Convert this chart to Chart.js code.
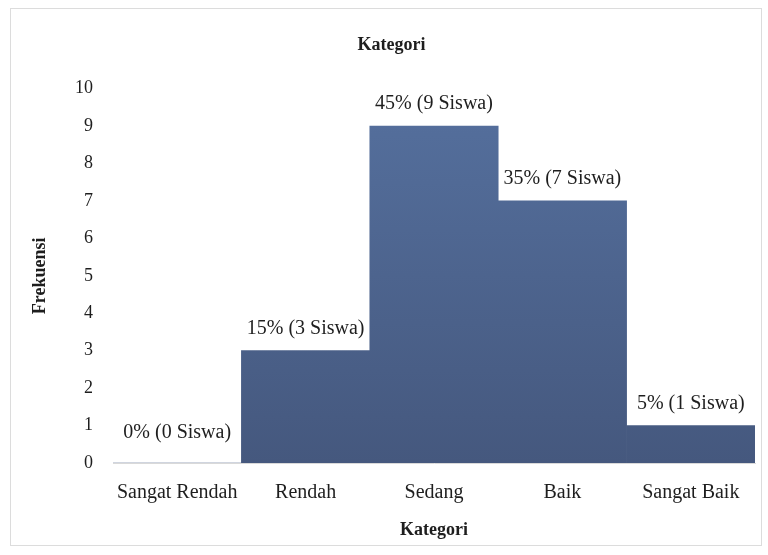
<!DOCTYPE html>
<html>
<head>
<meta charset="utf-8">
<script src="https://cdn.jsdelivr.net/npm/chart.js@4.4.1/dist/chart.umd.min.js"></script>
<style>
    html, body { margin: 0; padding: 0; background: #ffffff; }
    #wrap { width: 768px; height: 555px; }
</style>
</head>
<body>
<div id="wrap"><canvas id="histChart" width="768" height="555"></canvas></div>
<script>
// Data
const categories = ['Sangat Rendah', 'Rendah', 'Sedang', 'Baik', 'Sangat Baik'];
const frequencies = [0, 3, 9, 7, 1];
const percentages = ['0%', '15%', '45%', '35%', '5%'];
const yTicks = [0, 1, 2, 3, 4, 5, 6, 7, 8, 9, 10];

const serif = "'Liberation Serif', 'DejaVu Serif', serif";
const textColor = '#1e1e1e';

// light frame round the whole picture
const framePlugin = {
    id: 'frame',
    beforeDraw(chart) {
        const ctx = chart.ctx;
        ctx.save();
        ctx.fillStyle = '#ffffff';
        ctx.fillRect(0, 0, chart.width, chart.height);
        ctx.strokeStyle = '#dcdcdc';
        ctx.lineWidth = 1;
        ctx.strokeRect(10.5, 8.5, 751, 537);
        ctx.restore();
    }
};

// "45% (9 Siswa)" style labels above each bar
const barLabelPlugin = {
    id: 'barLabels',
    afterDatasetsDraw(chart) {
        const ctx = chart.ctx;
        const meta = chart.getDatasetMeta(0);
        ctx.save();
        ctx.font = '20px ' + serif;
        ctx.fillStyle = textColor;
        ctx.textAlign = 'center';
        ctx.textBaseline = 'middle';
        meta.data.forEach((bar, i) => {
            const text = `${percentages[i]} (${frequencies[i]} Siswa)`;
            const offset = frequencies[i] === 0 ? 30 : 22;
            ctx.fillText(text, bar.x, bar.y - offset);
        });
        ctx.restore();
    }
};

const ctx = document.getElementById('histChart').getContext('2d');

new Chart(ctx, {
    type: 'bar',
    data: {
        labels: categories,
        datasets: [
            {
                label: 'Frekuensi',
                data: frequencies,
                backgroundColor: (context) => {
                    const area = context.chart.chartArea;
                    if (!area) return '#4d6391';
                    const g = context.chart.ctx.createLinearGradient(0, area.top, 0, area.bottom);
                    g.addColorStop(0, '#55709e');
                    g.addColorStop(1, '#45587e');
                    return g;
                },
                borderWidth: 0,
                categoryPercentage: 1.0,
                barPercentage: 1.0,
            },
        ],
    },
    options: {
        responsive: false,
        animation: false,
        layout: {
            padding: { left: 28, right: 13, top: 0, bottom: 14 },
        },
        plugins: {
            legend: { display: false },
            tooltip: { enabled: false },
            title: {
                display: true,
                text: 'Kategori',
                color: textColor,
                font: { family: serif, size: 18, weight: 'bold' },
                padding: { top: 35, bottom: 32 },
            },
        },
        scales: {
            x: {
                grid: { display: false, drawTicks: false },
                border: { display: true, color: '#d9d9d9', width: 1 },
                ticks: {
                    color: textColor,
                    font: { family: serif, size: 20 },
                    padding: 18,
                    maxRotation: 0,
                },
                title: {
                    display: true,
                    text: 'Kategori',
                    color: textColor,
                    font: { family: serif, size: 18, weight: 'bold' },
                    padding: { top: 4, bottom: 0 },
                },
                afterFit: (scale) => { scale.height = 78; },
            },
            y: {
                min: 0,
                max: 10,
                grid: { display: false, drawTicks: false },
                border: { display: false },
                afterBuildTicks: (scale) => {
                    scale.ticks = yTicks.map((v) => ({ value: v }));
                },
                ticks: {
                    color: textColor,
                    font: { family: serif, size: 18 },
                    padding: 20,
                },
                title: {
                    display: true,
                    text: 'Frekuensi',
                    color: textColor,
                    font: { family: serif, size: 18, weight: 'bold' },
                    padding: { top: 2, bottom: 10 },
                },
                afterFit: (scale) => { scale.width = 85; },
            },
        },
    },
    plugins: [framePlugin, barLabelPlugin],
});
</script>
</body>
</html>
